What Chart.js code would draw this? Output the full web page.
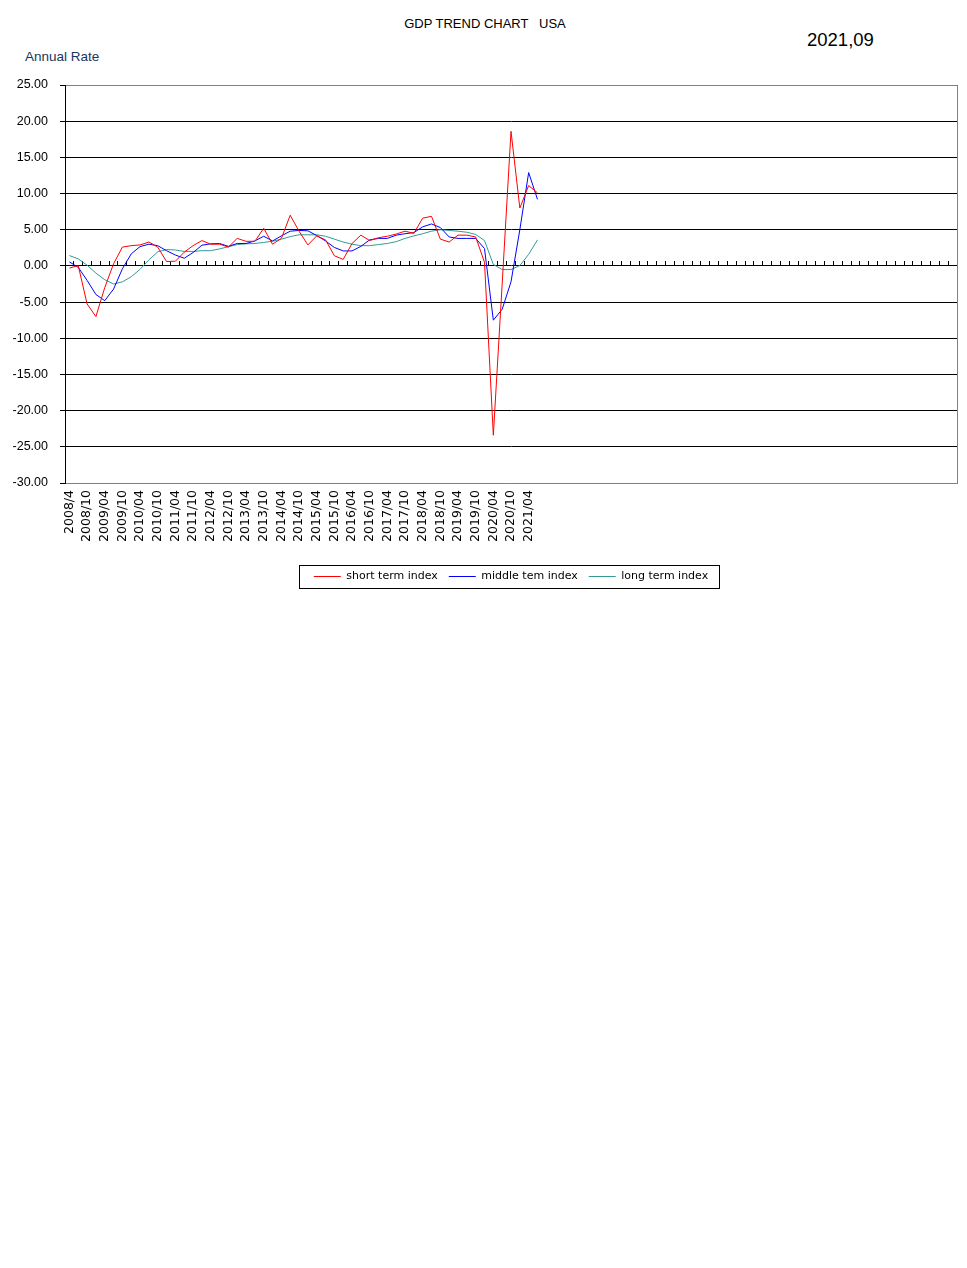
<!DOCTYPE html>
<html>
<head>
<meta charset="utf-8">
<script src="https://cdn.jsdelivr.net/npm/chart.js@4.4.1/dist/chart.umd.min.js"></script>
<style>
html,body{margin:0;padding:0;background:#fff;width:967px;height:1268px;overflow:hidden;}
#wrap{position:absolute;left:0;top:0;width:967px;height:600px;}
.t{position:absolute;white-space:pre;font-family:'Liberation Sans',Arial,sans-serif;color:#000;line-height:1;}
</style>
</head>
<body>
<div class="t" style="left:0;width:970px;text-align:center;top:17px;font-size:13px;">GDP TREND CHART   USA</div>
<div class="t" style="left:807px;top:31px;font-size:18.5px;">2021,09</div>
<div class="t" style="left:25px;top:50px;font-size:13.5px;color:#17365D;">Annual Rate</div>
<div id="wrap"><canvas id="c" width="967" height="600"></canvas></div>
<script>
// ---- data ----
const tickLabels = ['2008/4','2008/10','2009/04','2009/10','2010/04','2010/10','2011/04','2011/10',
  '2012/04','2012/10','2013/04','2013/10','2014/04','2014/10','2015/04','2015/10','2016/04','2016/10',
  '2017/04','2017/10','2018/04','2018/10','2019/04','2019/10','2020/04','2020/10','2021/04'];
const slotCount = 101;
const seriesNames = ['short term index','middle tem index','long term index'];
const shortTerm = [-0.3, 0.05, -5.25, -7.0, -3.0, 0.3, 2.6, 2.8, 2.9, 3.3,
  2.6, 0.6, 0.65, 1.9, 2.8, 3.5, 3.0, 3.0, 2.6, 3.8,
  3.4, 3.4, 5.2, 3.0, 3.8, 7.0, 4.8, 2.9, 4.15, 3.6,
  1.4, 0.9, 3.1, 4.25, 3.5, 3.9, 4.1, 4.4, 4.8, 4.5,
  6.6, 6.85, 3.7, 3.3, 4.25, 4.25, 4.0, 0.5, -23.4, -2.5,
  18.6, 8.0, 11.1, 10.1];
const middleTerm = [0.55, -0.2, -2.0, -3.95, -4.8, -3.2, -0.4, 1.66, 2.67, 3.0,
  2.8, 2.1, 1.5, 1.06, 1.84, 2.86, 3.05, 3.1, 2.7, 3.1,
  3.1, 3.45, 4.1, 3.45, 4.15, 4.8, 4.9, 4.85, 4.2, 3.45,
  2.55, 2.07, 2.07, 2.7, 3.6, 3.8, 3.8, 4.25, 4.45, 4.6,
  5.4, 5.8, 5.3, 4.0, 3.8, 3.8, 3.8, 2.4, -7.5, -6.0,
  -2.2, 5.0, 12.9, 9.2];
const longTerm = [1.43, 0.97, 0.1, -1.0, -1.9, -2.5, -2.2, -1.5, -0.46, 0.83,
  1.94, 2.26, 2.2, 2.0, 2.0, 2.1, 2.1, 2.35, 2.65, 2.95,
  3.05, 3.1, 3.25, 3.4, 3.7, 4.05, 4.3, 4.3, 4.3, 4.1,
  3.7, 3.3, 3.0, 2.8, 2.8, 2.95, 3.1, 3.35, 3.8, 4.15,
  4.45, 4.8, 5.0, 4.9, 4.8, 4.65, 4.35, 3.5, 0.2, -0.5,
  -0.5, 0.05, 1.6, 3.6];
const yMin = -30, yMax = 25, yStep = 5;

// ---- categories (every other quarter labelled, rest blank) ----
const categories = [];
tickLabels.forEach(l => { categories.push(l); categories.push(''); });
while (categories.length < slotCount) categories.push('');

const framePlugin = {
  id: 'frame',
  beforeDatasetsDraw(chart) {
    const {ctx, chartArea: a, scales: {x, y}} = chart;
    ctx.save();
    ctx.lineWidth = 1;
    ctx.strokeStyle = '#808080';
    const xr = Math.round(a.right - 0.5) + 0.5;
    ctx.beginPath(); ctx.moveTo(xr, a.top); ctx.lineTo(xr, a.bottom); ctx.stroke();
    const y0 = Math.round(y.getPixelForValue(0) - 0.5) + 0.5;
    ctx.strokeStyle = '#000';
    ctx.beginPath();
    for (let k = 1; k < categories.length; k++) {
      const xb = Math.round((x.getPixelForValue(k - 1) + x.getPixelForValue(k)) / 2 - 0.5) + 0.5;
      ctx.moveTo(xb, y0); ctx.lineTo(xb, y0 - 4.5);
    }
    ctx.stroke();
    ctx.restore();
  },
  afterDraw(chart) {
    const hb = chart.legend && chart.legend.legendHitBoxes;
    if (!hb || !hb.length) return;
    const ctx = chart.ctx;
    const last = hb[hb.length - 1];
    const l = hb[0].left - 15, r = last.left + last.width + 11;
    const t = hb[0].top - 6, b = hb[0].top + hb[0].height + 6;
    ctx.save();
    ctx.strokeStyle = '#000'; ctx.lineWidth = 1;
    ctx.strokeRect(Math.round(l) + 0.5, Math.round(t) + 0.5, Math.round(r - l), Math.round(b - t));
    ctx.restore();
  }
};

const mk = (label, data, color) => ({
  label, data, borderColor: color, backgroundColor: color, borderWidth: 1,
  pointRadius: 0, pointHoverRadius: 0, pointStyle: 'line', tension: 0, fill: false
});

new Chart(document.getElementById('c'), {
  type: 'line',
  data: {
    labels: categories,
    datasets: [
      mk(seriesNames[0], shortTerm, '#FF0000'),
      mk(seriesNames[1], middleTerm, '#0000FF'),
      mk(seriesNames[2], longTerm, '#339999')
    ]
  },
  options: {
    responsive: false,
    animation: false,
    events: [],
    layout: {padding: {top: 85, left: 0, right: 10, bottom: 8}},
    plugins: {
      title: {display: false},
      tooltip: {enabled: false},
      legend: {
        display: true,
        position: 'bottom',
        fullSize: false,
        labels: {
          usePointStyle: true,
          pointStyleWidth: 27,
          padding: 11,
          color: '#000',
          font: {family: 'DejaVu Sans', size: 11}
        }
      }
    },
    scales: {
      x: {
        type: 'category',
        offset: true,
        grid: {display: false, drawTicks: false},
        border: {display: true, color: '#808080', width: 1},
        ticks: {
          autoSkip: false, maxRotation: 90, minRotation: 90, padding: 7,
          color: '#000', font: {family: 'DejaVu Sans', size: 12.5}
        },
        afterFit(s) { s.height = 77; s.paddingLeft = 0; s.paddingRight = 0; }
      },
      y: {
        min: yMin, max: yMax,
        ticks: {
          stepSize: yStep,
          callback: v => Number(v).toFixed(2),
          color: '#000', padding: 12,
          font: {family: 'Liberation Sans', size: 12.5}
        },
        grid: {
          color: c => (c.tick && (c.tick.value === yMax || c.tick.value === yMin)) ? '#808080' : '#000',
          tickColor: '#000', tickLength: 5, lineWidth: 1, drawTicks: true
        },
        border: {display: true, color: '#000', width: 1},
        afterFit(s) { s.width = 65; }
      }
    }
  },
  plugins: [framePlugin]
});
</script>
</body>
</html>
